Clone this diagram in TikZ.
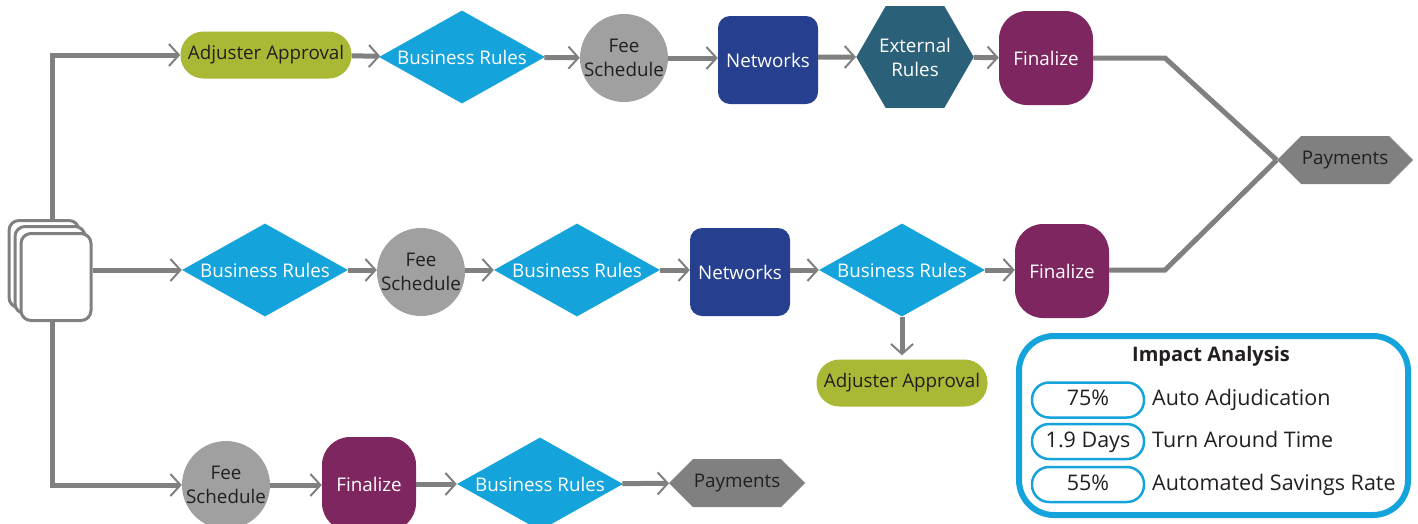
\documentclass[tikz,border=0pt]{standalone}
\usepackage{fontspec}
\setmainfont{Open Sans}
\usetikzlibrary{shapes.geometric,shapes.symbols,arrows.meta}

\definecolor{lineGray}{HTML}{808080}
\definecolor{ruleBlue}{HTML}{15A3DC}
\definecolor{approvalOlive}{HTML}{AAB935}
\definecolor{feeGray}{HTML}{A0A0A0}
\definecolor{netBlue}{HTML}{263F8E}
\definecolor{extTeal}{HTML}{2B6178}
\definecolor{finPurple}{HTML}{7E265F}
\definecolor{inkDark}{HTML}{231F20}

\newcommand*{\flowFont}{\fontsize{18.8}{24}\selectfont}
\newcommand*{\statFont}{\fontsize{21.5}{24}\selectfont}
\newcommand*{\titleFont}{\fontsize{20}{24}\selectfont\bfseries}
\newcommand*{\zw}[1]{\makebox[0pt]{#1}}

\tikzset{
  flow/.style={line width=5pt, draw=lineGray,
    -{Straight Barb[length=10pt,width=22pt,line width=2pt]}},
  link/.style={line width=5pt, draw=lineGray},
  rules/.style={diamond, fill=ruleBlue, minimum width=166pt, minimum height=93pt,
    inner sep=0pt, text=white, font=\flowFont},
  approval/.style={rectangle, rounded corners=23pt, fill=approvalOlive, minimum width=171pt,
    minimum height=47pt, inner sep=0pt, text=inkDark, font=\flowFont},
  fee/.style={circle, fill=feeGray, minimum size=88pt, inner sep=-3pt, align=center,
    text=inkDark, font=\flowFont},
  network/.style={rectangle, rounded corners=12pt, fill=netBlue, minimum width=100pt,
    minimum height=88pt, inner sep=0pt, text=white, font=\flowFont},
  external/.style={regular polygon, regular polygon sides=6, fill=extTeal, minimum size=110pt,
    inner sep=0pt, align=center, text=white, font=\flowFont},
  final/.style={rectangle, rounded corners=28pt, fill=finPurple, minimum width=94pt,
    minimum height=94pt, inner sep=0pt, text=white, font=\flowFont},
  payment/.style={signal, signal to=west and east, signal pointer angle=90, fill=lineGray,
    minimum width=136pt, minimum height=48pt, inner sep=0pt, text=inkDark, font=\flowFont},
  card/.style={rectangle, rounded corners=10pt, draw=lineGray, line width=3pt, fill=white,
    minimum width=70pt, minimum height=87pt},
  stat/.style={rectangle, rounded corners=17pt, draw=ruleBlue, line width=2.5pt,
    minimum width=112pt, minimum height=35pt, inner sep=0pt, text=inkDark, font=\statFont,
    text height=15pt, text depth=4pt},
  what/.style={anchor=west, inner sep=0pt, text=inkDark, font=\statFont,
    text height=15pt, text depth=4pt},
}

\begin{document}
\begin{tikzpicture}[x=1pt,y=-1pt]
    \useasboundingbox (0,0) rectangle (1418,523);

    % top row
    \node[approval] (aa1) at (266,55) {Adjuster Approval};
    \node[rules] (br1) at (462,57) {\zw{Business Rules}};
    \node[fee] (fs1) at (624,58) {Fee\\Schedule};
    \node[network] (nw1) at (768,60) {Networks};
    \node[external] (ext) at (915,57) {External\\Rules};
    \node[final] (fin1) at (1046,58) {Finalize};
    \node[payment] (pay1) at (1345,160) {Payments};

    % middle row
    \node[rules] (br2) at (265,270) {\zw{Business Rules}};
    \node[fee] (fs2) at (421,272) {Fee\\Schedule};
    \node[rules] (br3) at (577,270) {\zw{Business Rules}};
    \node[network] (nw2) at (740,272) {Networks};
    \node[rules] (br4) at (902,270) {\zw{Business Rules}};
    \node[approval] (aa2) at (902,383) {Adjuster Approval};
    \node[final] (fin2) at (1062,271) {Finalize};

    % bottom row
    \node[fee] (fs3) at (226,485) {Fee\\Schedule};
    \node[final] (fin3) at (369,484) {Finalize};
    \node[rules] (br5) at (540,484) {\zw{Business Rules}};
    \node[payment] (pay2) at (737,483) {Payments};

    \coordinate (trunk) at (52,270);
    \coordinate (m1) at (1165,58);
    \coordinate (m2) at (1165,270);

    \draw[flow] (trunk) |- (aa1);
    \draw[flow] (trunk) |- (fs3);

    \foreach \i/\x/\y in {1/44/264, 2/50/270, 3/56/277} {
        \node[card] (card\i) at (\x,\y) {};
    }

    \draw[flow] (aa1) -- (br1);
    \draw[flow] (br1) -- (fs1);
    \draw[flow] (fs1) -- (nw1.west |- fs1);
    \draw[flow] (nw1.east |- ext) -- (ext);
    \draw[flow] (ext) -- (fin1);
    \draw[link] (fin1) -- (m1) -- (pay1.west);

    \draw[flow] (card3.east |- br2) -- (br2);
    \draw[flow] (br2) -- (fs2.west |- br2);
    \draw[flow] (fs2.east |- br3) -- (br3);
    \draw[flow] (br3) -- (nw2.west |- br3);
    \draw[flow] (nw2.east |- br4) -- (br4);
    \draw[flow] (br4) -- (fin2.west |- br4);
    \draw[flow, shorten >=4pt] (br4) -- (aa2);
    \draw[link] (fin2.east |- m2) -- (m2) -- (pay1.west);

    \draw[flow] (fs3) -- (fin3.west |- fs3);
    \draw[flow] (fin3) -- (br5);
    \draw[flow] (br5) -- (pay2);

    % impact box
    \node[rectangle, rounded corners=35pt, draw=ruleBlue, line width=6pt,
        minimum width=389pt, minimum height=179pt] (impact) at (1213.5,425.5) {};
    \node[font=\titleFont, text=inkDark] (title) at (1211,356) {Impact Analysis};
    \foreach \i/\v/\t/\y in {1/75\%/Auto Adjudication/400, 2/1.9 Days/Turn Around Time/441.5,
        3/55\%/Automated Savings Rate/484.5} {
        \node[stat] (stat\i) at (1088,\y) {\v};
        \node[what] (what\i) at (1152,\y) {\t};
    }

\end{tikzpicture}
\end{document}
